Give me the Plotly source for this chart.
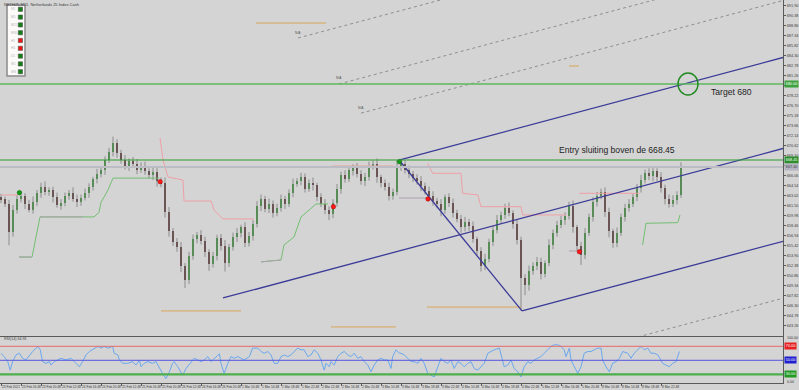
import plotly.graph_objects as go

# ---------------- data ----------------
closes = [662.5,661.8,657.5,660.8,662.6,663.0,661.8,660.9,662.0,663.4,
 664.4,663.6,663.9,662.8,661.6,661.9,663.0,663.5,662.6,662.1,
 662.7,663.4,664.3,665.5,666.3,667.0,668.4,669.6,671.0,669.5,
 668.4,667.6,668.3,667.9,667.0,667.6,666.8,666.1,666.7,665.2,
 664.9,660.6,657.6,656.0,655.2,652.4,650.2,653.8,656.5,657.0,
 656.2,654.5,652.6,653.8,656.6,655.4,652.8,655.2,656.8,657.4,
 658.2,655.8,656.9,658.8,661.5,662.6,661.0,661.8,660.4,661.2,
 662.5,661.8,663.4,664.8,665.3,665.8,664.1,665.0,664.6,662.8,
 661.8,660.9,660.2,661.9,664.0,666.2,665.6,666.9,667.2,666.4,
 665.2,665.9,667.5,667.9,665.8,664.9,664.3,663.0,663.6,667.4,
 667.9,666.9,666.4,665.7,665.2,664.5,663.8,663.0,662.2,661.7,
 660.8,662.8,661.9,660.4,659.5,658.2,659.0,658.4,656.4,654.6,
 652.4,653.4,656.0,657.8,659.4,660.1,661.2,660.4,658.8,656.3,
 650.5,649.4,651.6,652.4,653.0,651.2,652.8,655.6,657.4,658.6,
 659.3,660.0,661.5,658.2,655.4,654.0,657.4,659.8,662.0,663.0,
 663.6,660.6,657.6,655.8,657.4,659.8,661.2,661.8,662.8,664.2,
 665.4,666.5,666.0,666.8,665.8,664.2,662.6,661.8,662.4,663.2,
 667.5]
first_open = 662.8

wick_up = [0.5,0.4,0.6,0.8,0.5,0.7,0.4,0.6,0.9,0.5,
 0.6,0.8,0.4,0.5,0.7,0.6,0.5,0.4,0.8,0.6,
 0.5,0.7,0.6,0.4,0.8,0.5,0.6,0.7,1.0,0.6,
 0.5,0.8,0.4,0.6,0.7,0.5,0.6,0.4,0.8,0.5,
 0.6,0.9,0.7,0.5,0.6,0.8,0.4,0.7,0.6,0.5,
 0.8,0.6,0.4,0.7,0.5,0.6,0.9,0.5,0.6,0.7,
 0.4,0.8,0.6,0.5,0.7,0.6,0.4,0.8,0.5,0.6,
 0.7,0.5,0.6,0.8,0.4,0.7,0.6,0.5,0.8,0.4,
 0.6,0.7,0.5,0.6,0.8,0.5,0.7,0.4,0.6,0.8,
 0.5,0.6,0.7,0.5,0.8,0.4,0.6,0.7,0.5,1.05,
 0.6,0.5,0.7,0.4,0.6,0.8,0.5,0.6,0.7,0.5,
 0.8,0.4,0.6,0.7,0.5,0.6,0.8,0.5,0.7,0.4,
 0.6,0.8,0.5,0.6,0.7,0.5,0.6,0.8,0.4,0.7,
 0.5,0.6,0.8,0.5,0.7,0.6,0.4,0.8,0.5,0.6,
 0.7,0.5,0.6,0.8,0.4,0.6,0.7,0.5,0.8,0.6,
 0.5,0.7,0.6,0.4,0.8,0.5,0.6,0.7,0.5,0.6,
 0.8,0.5,0.7,0.6,0.4,0.8,0.5,0.6,0.7,0.5,
 0.6]
wick_dn = [0.6,0.5,2.0,0.7,0.5,0.6,0.8,0.4,0.6,0.5,
 0.7,0.5,0.6,0.8,0.4,0.7,0.5,0.6,0.5,0.8,
 0.6,0.4,0.7,0.5,0.6,0.5,0.8,0.4,0.6,0.7,
 0.5,0.6,0.8,0.4,0.7,0.5,0.6,0.5,0.7,0.8,
 0.6,0.9,0.8,0.6,0.7,1.0,1.2,0.6,0.5,0.7,
 0.6,0.8,1.0,0.5,0.6,0.7,1.3,0.6,0.5,0.8,
 0.7,0.6,0.5,0.7,0.6,0.8,0.5,0.6,0.7,0.5,
 0.6,0.8,0.5,0.6,0.4,0.7,0.6,0.5,0.8,0.6,
 0.5,0.7,0.9,0.6,0.5,0.7,0.6,0.5,0.8,0.6,
 0.5,0.7,0.6,0.5,0.8,0.6,0.5,0.7,0.6,0.5,
 0.6,0.5,0.7,0.6,0.5,0.8,0.6,0.5,0.7,0.6,
 0.9,0.5,0.6,0.7,0.5,0.8,0.6,0.7,0.5,0.6,
 0.9,0.7,0.5,0.6,0.5,0.7,0.6,0.5,0.8,0.7,
 4.9,1.5,0.8,0.6,0.7,0.9,0.6,0.5,0.7,0.6,
 0.5,0.7,0.6,0.8,0.7,1.5,0.6,0.5,0.7,0.6,
 0.5,0.8,0.9,0.7,0.6,0.5,0.7,0.6,0.5,0.6,
 0.7,0.5,0.6,0.8,0.6,0.7,0.9,0.6,0.5,0.7,
 0.5]

# RSI(14)
rsi_x = [0,0.8,1.7,2.3,2.9,3.75,4.6,5.4,6.25,7.1,7.9,9.2,9.8,10.4,11.25,12.1,12.5,13.3,14.2,15,
 16.25,17.5,18.75,19.6,20.4,21.25,22.1,23.3,24.2,25,25.8,26.7,27.9,28.3,29.2,29.6,30.4,31.7,32.9,33.75,
 34.6,35,35.8,36.7,37.9,38.75,39.6,40.4,41.25,42.1,42.9,43.3,44.2,45.4,46.25,47.5,48.3,49.2,50,50.8,
 51.7,52.5,53.3,54.6,55,55.8,56.7,57.5,58.3,59.2,60.8,62.1,62.9,64.2,65,65.8,66.7,67.5,68.3,69.2,
 70,70.8,71.7,72.5,73.3,74.2,75,75.8,76.7,77.5,78.3,79.2,80,80.8,81.25,82.1,82.5,83.3,84.2,85,
 85.8,86.7,87.5,88.3,89.2,90,90.8,91.7,92.5,93.3,94.2,95,95.8,96.7,97.5,97.9,98.75,99.6,
 100,100.8,101.7,102.5,103.3,104.2,105,105.8,106.7,107.5,108.3,109.2,110,110.8,111.7,112.5,113.3,114.2,115,115.8,
 116.7,117.5,118.3,119.2,120,120.8,121.7,122.5,123.3,124.6,125,125.8,126.7,127.5,128.3,129.2,130,130.8,131.7,132.5,
 133.3,134.2,135,135.8,136.7,137.5,138.3,139.2,140,140.8,141.25,142.1,142.5,143.3,144.2,145,145.8,146.7,147.5,148.3,
 149.2,150,150.4,151.25,152.1,152.9,153.75,154.6,155.4,156.7,157.5,158.3,159.6,160,160.8,161.7,162.5,163.3,164.2,165,
 165.4,166.25,167.1,167.9,168.75,169.6]
rsi_v = [60.1,55.3,48.1,36.0,48.1,57.7,60.1,52.9,50.5,57.7,62.6,69.8,65.0,48.1,45.7,48.1,43.2,48.1,50.5,52.9,
 50.5,52.9,45.7,40.8,48.1,57.7,62.6,67.4,69.8,67.4,69.8,67.4,69.8,60.1,57.7,50.5,45.7,45.7,48.1,43.2,
 50.5,40.8,45.7,48.1,45.7,48.1,38.4,31.2,23.9,33.6,45.7,48.1,40.8,28.7,38.4,48.1,52.9,50.5,48.1,50.5,
 55.3,48.1,52.9,59.2,45.7,31.2,45.7,55.3,52.9,55.3,50.5,55.3,67.4,67.4,62.6,60.1,62.6,57.7,45.7,45.7,
 55.3,57.7,55.3,57.7,62.6,67.4,65.0,65.0,55.3,57.7,65.0,60.1,50.5,36.0,45.7,40.8,48.1,43.2,55.3,60.1,
 62.6,57.7,55.3,60.1,52.9,55.3,48.1,43.2,33.6,43.2,50.5,52.9,50.5,50.5,38.4,55.3,65.0,60.1,
 60.1,57.7,52.9,48.1,48.1,45.7,52.9,45.7,31.2,28.7,26.3,40.8,52.9,48.1,45.7,50.5,38.4,48.1,45.7,40.8,
 45.7,48.1,38.4,36.0,40.8,45.7,60.1,62.6,65.0,67.4,57.7,40.8,43.2,50.5,38.4,33.6,26.3,40.8,48.1,45.7,
 50.5,52.9,55.3,60.1,65.0,69.8,72.2,72.2,69.8,65.0,55.3,67.4,50.5,40.8,31.2,40.8,60.1,62.6,62.6,65.0,
 67.4,67.4,50.5,40.8,33.6,45.7,48.1,52.9,62.6,60.1,52.9,60.1,67.4,69.8,65.0,67.4,60.1,60.1,57.7,50.5,
 45.7,43.2,40.8,45.7,48.1,62.6]
rsi_levels = [70, 50, 30]
rsi_level_labels = ["70.00", "50.00", "30.00"]
rsi_label = "RSI(14) 64.93"

# horizontal levels
target_price = 680.00
entry_price = 668.45
bid_price = 667.40

# trend / channel lines (bar index, price)
chan_x = [[55.5, 195.5], [99.5, 195.5], [130.25, 195.5], [99.5, 130.25]]
chan_y = [[647.48, 670.20], [668.45, 684.03], [645.51, 656.10], [668.45, 645.51]]
# dotted extension lines
ext_x = [[90.0, 195.5], [84.5, 195.5], [74.25, 195.5], [130.25, 195.5]]
ext_y = [[675.57, 692.69], [680.00, 698.01], [686.99, 706.67], [636.85, 647.44]]
ext_na = [(90.0, 676.4), (84.5, 680.9), (74.25, 687.75)]
# short orange/tan level segments
seg_x = [[63.75, 81.25], [142.0, 144.5], [106.5, 130.0], [40.0, 60.0], [82.5, 98.75]]
seg_y = [689.27, 682.74, 646.10, 645.51, 643.08]

# trailing stop step lines
sup1_x = [4.5, 7.75, 8.25, 9.25, 9.75, 20.5, 23.25, 24.5, 25.0, 26.75, 28.0, 39.5]
sup1_y = [653.7, 653.7, 655.2, 658.2, 659.8, 659.8, 659.8, 660.5, 662.0, 663.9, 665.7, 665.7]
sup1_grey = [([4.5, 7.75], [653.7, 653.7]), ([9.75, 20.5], [659.8, 659.8])]
sup2_x = [65.0, 70.0, 70.75, 73.25, 75.0, 78.75, 81.75]
sup2_y = [652.96, 653.26, 655.54, 656.75, 659.79, 661.77, 661.77]
sup3_x = [99.5, 106.5]
sup3_y = [662.68, 662.68]
sup4_x = [142.0, 144.25]
sup4_y = [654.62, 654.62]
sup5_x = [160.4, 161.25, 169.2, 169.75]
sup5_y = [655.54, 658.83, 658.93, 660.10]
res0_x = [0.0, 4.2]
res0_y = [663.14, 663.14]
res1_x = [39.75, 40.5, 41.75, 45.5, 45.75, 52.5, 53.25, 55.5, 63.25]
res1_y = [671.80, 668.45, 665.87, 665.41, 662.22, 662.22, 660.86, 659.49, 659.49]
res2_x = [82.75, 98.25]
res2_y = [667.54, 667.54]
res3_x = [106.7, 107.9, 115.0, 115.4, 119.2, 120.0, 130.0, 130.4, 141.25]
res3_y = [667.95, 666.43, 666.43, 663.39, 663.14, 661.36, 661.36, 660.10, 660.10]
res4_x = [144.6, 159.6]
res4_y = [663.39, 663.39]

red_dot_x = [39.8, 83.1, 106.75, 144.6]
red_dot_y = [665.16, 661.36, 662.53, 654.52]
green_dot_x = [4.6, 99.6]
green_dot_y = [663.49, 668.20]

price_ticks = [691.90, 690.38, 688.86, 687.34, 685.82, 684.30, 682.78, 681.26, 679.74, 678.22,
 676.70, 675.18, 673.66, 672.14, 670.62, 669.10, 667.58, 666.06, 664.54, 663.02, 661.50,
 659.98, 658.46, 656.94, 655.42, 653.90, 652.38, 650.86, 649.34, 647.82, 646.30, 644.78, 643.26]
time_ticks = list(range(0, 170, 5))
time_labels = ["23 Feb 2021", "23 Feb 16:48", "23 Feb 20:48", "24 Feb 12:48", "24 Feb 16:48",
 "24 Feb 20:48", "25 Feb 12:48", "25 Feb 16:48", "25 Feb 20:48", "26 Feb 12:48", "26 Feb 16:48",
 "26 Feb 20:48", "1 Mar 10:48", "1 Mar 14:48", "1 Mar 18:48", "1 Mar 22:48", "2 Mar 12:48",
 "2 Mar 16:48", "2 Mar 20:48", "3 Mar 10:48", "3 Mar 14:48", "3 Mar 18:48", "3 Mar 22:48",
 "4 Mar 10:48", "4 Mar 14:48", "4 Mar 18:48", "4 Mar 22:48", "5 Mar 12:48", "5 Mar 16:48",
 "5 Mar 20:48", "8 Mar 10:48", "8 Mar 14:48", "8 Mar 18:48", "8 Mar 22:48"]

tf_labels = ["M1", "M5", "M15", "M30", "H1", "H4", "D1", "W1", "MN"]
tf_state = ["up", "up", "up", "up", "down", "down", "up", "up", "up"]

title_text = "NETH25,M15  Netherlands 25 Index Cash"
entry_text = "Entry sluiting boven de 668.45"
target_text = "Target 680"

# ---------------- derived ----------------
opens = [first_open] + closes[:-1]
n = len(closes)
bars = list(range(n))
highs = [max(o, c) + w for o, c, w in zip(opens, closes, wick_up)]
lows = [min(o, c) - w for o, c, w in zip(opens, closes, wick_dn)]

BG = "#d4d4d4"
NAVY = "#3b3b98"
GREEN_L = "#72bf72"
GREY_L = "#aca2ac"
PINK = "#eea0a8"
ORANGE = "#d9a656"

X_RANGE = [-0.25, 195.5]
Y_RANGE = [641.7, 692.77]
RSI_RANGE = [17.6, 83.3]
MAIN_DOM = [0.1227, 1.0]
RSI_DOM = [0.0, 0.1201]

fig = go.Figure()

# wicks
wx, wy = [], []
for i in bars:
    wx += [i, i, None]
    wy += [lows[i], highs[i], None]
fig.add_trace(go.Scatter(x=wx, y=wy, mode="lines", line=dict(color="#8c8c8c", width=1),
                         xaxis="x", yaxis="y", hoverinfo="skip"))
# bodies
fig.add_trace(go.Bar(x=bars, y=[max(abs(c - o), 0.08) for o, c in zip(opens, closes)],
                     base=[min(o, c) for o, c in zip(opens, closes)],
                     width=0.5,
                     marker=dict(color=["#228b22" if c >= o else "#4a1c1c" for o, c in zip(opens, closes)],
                                 line=dict(width=0)),
                     xaxis="x", yaxis="y", hoverinfo="skip"))

def line(x, y, color, width=1, dash="solid", axis=("x", "y")):
    fig.add_trace(go.Scatter(x=x, y=y, mode="lines", line=dict(color=color, width=width, dash=dash),
                             xaxis=axis[0], yaxis=axis[1], hoverinfo="skip"))

# step lines
line(sup1_x, sup1_y, GREEN_L)
for gx, gy in sup1_grey:
    line(gx, gy, GREY_L)
line(sup2_x, sup2_y, GREEN_L)
line(sup2_x[:2], sup2_y[:2], GREY_L)
line(sup3_x, sup3_y, GREY_L)
line(sup4_x, sup4_y, GREY_L)
line(sup5_x, sup5_y, GREEN_L)
line(res0_x, res0_y, PINK)
line(res1_x, res1_y, PINK)
line(res2_x, res2_y, PINK)
line(res3_x, res3_y, PINK)
line(res4_x, res4_y, PINK)

# orange segments
for sx, sy in zip(seg_x, seg_y):
    line(sx, [sy, sy], ORANGE, 1)

# dotted extension lines
for ex, ey in zip(ext_x, ext_y):
    line(ex, ey, "#8e8e8e", 1, "dot")

# channel lines
for cx, cy in zip(chan_x, chan_y):
    line(cx, cy, NAVY, 1.3)

# markers
fig.add_trace(go.Scatter(x=red_dot_x, y=red_dot_y, mode="markers",
                         marker=dict(color="#ff1a1a", size=4.5, line=dict(color="#a00000", width=0.5)),
                         xaxis="x", yaxis="y", hoverinfo="skip"))
fig.add_trace(go.Scatter(x=green_dot_x, y=green_dot_y, mode="markers",
                         marker=dict(color="#139a13", size=4.5, line=dict(color="#0a600a", width=0.5)),
                         xaxis="x", yaxis="y", hoverinfo="skip"))

# RSI
fig.add_trace(go.Scatter(x=rsi_x, y=rsi_v, mode="lines", line=dict(color="#6aa8ee", width=1),
                         xaxis="x2", yaxis="y2", hoverinfo="skip"))

shapes = []
# main horizontal levels
shapes.append(dict(type="line", xref="paper", yref="y", x0=0, x1=1, y0=bid_price, y1=bid_price,
                   line=dict(color="#bcbcc4", width=2)))
shapes.append(dict(type="line", xref="paper", yref="y", x0=0, x1=1, y0=target_price, y1=target_price,
                   line=dict(color="#5cb85c", width=1.6)))
shapes.append(dict(type="line", xref="paper", yref="y", x0=0, x1=1, y0=entry_price, y1=entry_price,
                   line=dict(color="#2f9a2f", width=1.2)))
# target ellipse
shapes.append(dict(type="circle", xref="x", yref="y", x0=169.25, x1=174.25, y0=678.33, y1=681.68,
                   line=dict(color="#1f8a1f", width=1.4)))
# RSI levels
rsi_colors = ["#e86a6a", "#5555e0", "#4caf4c"]
rsi_widths = [1, 1, 2.2]
for lv, col, w in zip(rsi_levels, rsi_colors, rsi_widths):
    shapes.append(dict(type="line", xref="paper", yref="y2", x0=0, x1=1, y0=lv, y1=lv,
                       line=dict(color=col, width=w)))

# timeframe panel (top-left)
PH = 383.0
def py(p):
    return (PH - p) / PH
shapes.append(dict(type="rect", xref="paper", yref="paper", x0=7 / 783, x1=25 / 783, y0=py(76), y1=py(5),
                   fillcolor="#fdfafa", line=dict(color="#8a8a8a", width=1.5)))
annotations = []
for k, (lab, st) in enumerate(zip(tf_labels, tf_state)):
    cy = 9.3 + 7.8 * k
    col = "#108010" if st == "up" else "#f01010"
    shapes.append(dict(type="rect", xref="paper", yref="paper", x0=18.3 / 783, x1=22.5 / 783,
                       y0=py(cy + 2.1), y1=py(cy - 2.1), fillcolor=col, line=dict(color="#505050", width=0.6)))
    annotations.append(dict(xref="paper", yref="paper", x=9 / 783, y=py(cy), xanchor="left", yanchor="middle",
                            text=lab, showarrow=False, font=dict(size=3.2, color="#b4b4b4", family="Liberation Sans")))

# texts
annotations.append(dict(xref="paper", yref="paper", x=0.003, y=1.0, xanchor="left", yanchor="top",
                        text=title_text, showarrow=False, font=dict(size=4, color="#3a3a3a", family="Liberation Sans")))
annotations.append(dict(xref="x", yref="y", x=154.0, y=670.0, text=entry_text, showarrow=False,
                        font=dict(size=8.6, color="#1e1e1e", family="Liberation Sans")))
annotations.append(dict(xref="x", yref="y", x=177.0, y=678.75, text=target_text, showarrow=False,
                        xanchor="left", font=dict(size=8.6, color="#1e1e1e", family="Liberation Sans")))
for (nx, ny) in ext_na:
    annotations.append(dict(xref="x", yref="y", x=nx, y=ny, text="N/A", showarrow=False,
                            font=dict(size=3.3, color="#555555", family="Liberation Sans")))
annotations.append(dict(xref="paper", yref="paper", x=0.002, y=py(339), xanchor="left", yanchor="middle",
                        text=rsi_label, showarrow=False, font=dict(size=3.6, color="#3a3a3a", family="Liberation Sans")))

# axis label boxes
box_prices = [target_price, entry_price, bid_price]
def axbox(yref, yv, text, bg, fg="#ffffff"):
    annotations.append(dict(xref="paper", yref=yref, x=1.0, y=yv, xanchor="left", yanchor="middle", xshift=1,
                            text=text, showarrow=False, bgcolor=bg, borderpad=0.8,
                            font=dict(size=3.8, color=fg, family="Liberation Sans")))
axbox("y", target_price, f"{target_price:.2f}", "#3ca23c")
axbox("y", entry_price, f"{entry_price:.2f}", "#2b8f2b")
axbox("y", bid_price, f"{bid_price:.2f}", "#b4b4c2", "#404040")
box_cols = ["#e82020", "#1f1fd0", "#219a21"]
for lv, t, c in zip(rsi_levels, rsi_level_labels, box_cols):
    axbox("y2", lv, t, c)
for yy, t in [(py(338), "100.00"), (py(381.5), "0.00")]:
    annotations.append(dict(xref="paper", yref="paper", x=1.0, y=yy, xanchor="left", yanchor="middle",
                            xshift=2, text=t, showarrow=False,
                            font=dict(size=3.6, color="#3a3a3a", family="Liberation Sans")))

# tick labels hidden where a price box covers them (as on the terminal)
price_tick_text = ["" if any(abs(v - b) < 0.5 for b in box_prices) else f"{v:.2f}" for v in price_ticks]

y_font = dict(size=3.8, color="#3a3a3a", family="Liberation Sans")
x_font = dict(size=3.2, color="#3a3a3a", family="Liberation Sans")
fig.update_layout(
    width=799, height=390,
    margin=dict(l=0, r=16, t=0, b=7, pad=0, autoexpand=False),
    paper_bgcolor=BG, plot_bgcolor=BG,
    showlegend=False, hovermode=False, bargap=0,
    shapes=shapes, annotations=annotations,
    xaxis=dict(domain=[0, 1], anchor="y", range=X_RANGE, showticklabels=False, showgrid=False,
               zeroline=False, showline=True, mirror=True, linecolor="#5a5a5a", linewidth=1, ticks="",
               automargin=False),
    xaxis2=dict(domain=[0, 1], anchor="y2", matches="x", range=X_RANGE, showgrid=False, zeroline=False,
                showline=True, mirror=True, linecolor="#5a5a5a", linewidth=1,
                tickmode="array", tickvals=time_ticks, ticktext=time_labels, tickangle=0,
                ticks="outside", ticklen=2, tickcolor="#5a5a5a", tickfont=x_font,
                ticklabelposition="outside right", automargin=False),
    yaxis=dict(domain=MAIN_DOM, anchor="x", side="right", range=Y_RANGE, showgrid=False, zeroline=False,
               showline=True, mirror=True, linecolor="#5a5a5a", linewidth=1,
               tickmode="array", tickvals=price_ticks, ticktext=price_tick_text,
               ticks="outside", ticklen=2, tickcolor="#5a5a5a", tickfont=y_font, automargin=False),
    yaxis2=dict(domain=RSI_DOM, anchor="x2", side="right", range=RSI_RANGE, showgrid=False, zeroline=False,
                showline=True, mirror=True, linecolor="#5a5a5a", linewidth=1, showticklabels=False,
                ticks="", automargin=False),
)

fig.write_html("out.html", config={"displayModeBar": False},
               post_script="document.body.style.margin='0';document.body.style.overflow='hidden';")
